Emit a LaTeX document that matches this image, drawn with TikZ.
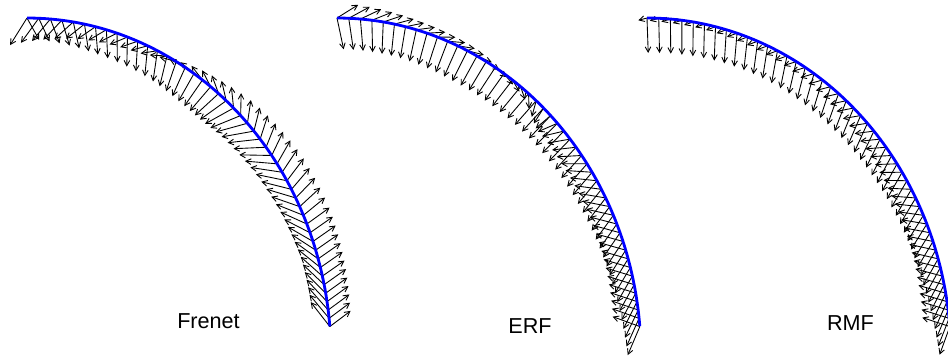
\documentclass[tikz,border=0pt]{standalone}
\usepackage{fontspec}
\setsansfont{Liberation Sans}
\usetikzlibrary{arrows.meta}

% frame vectors: angle (deg) and length (px) at u = 0, 1/8, ..., 1
\def\FrA{{238,215,192,120,78,55,35,35,37}}
\def\FrLA{{32,22,17,18,24,28,28,27,26}}
\def\FrB{{-61,-85,-97,-128,-168,-190,-205,-222,-232}}
\def\FrLB{{25,28,31,32,33,32,29,29,31}}
\def\ErA{{32,12,-12,-65,-165,-185,-195,-197,-200}}
\def\ErLA{{25,19,17,13,22,27,28,28,29}}
\def\ErB{{-78,-99,-116,-129,-135,-130,-125,-120,-113}}
\def\ErLB{{32,32,34,33,31,30,30,30,31}}
\def\RmA{{-165,-160,-160,-165,-172,-180,-190,-195,-198}}
\def\RmLA{{9,10,12,15,19,23,26,28,29}}
\def\RmB{{-88,-92,-100,-108,-115,-120,-122,-118,-110}}
\def\RmLB{{35,34,33,33,32,31,30,30,30}}

\begin{document}
\begin{tikzpicture}[
    x=0.02cm, y=-0.02cm,
    declare function={tt(\u)=85*(\u+0.23*\u*(1-\u));},
    curve/.style={draw=blue, line width=1.6pt},
    vec/.style={-{Straight Barb[length=3pt,width=3.2pt]}, line width=0.5pt},
    lbl/.style={font=\sffamily\fontsize{12.3}{14}\selectfont, anchor=base}
  ]
  \useasboundingbox (0,0) rectangle (948,360);
  \clip (0,0) rectangle (948,360);
  \foreach \ox/\A/\LA/\B/\LB in {0/\FrA/\FrLA/\FrB/\FrLB, 310/\ErA/\ErLA/\ErB/\ErLB, 620/\RmA/\RmLA/\RmB/\RmLB}{
    \foreach \k in {0,...,47}{
      \pgfmathsetmacro\tp{tt(\k/47)}
      \pgfmathtruncatemacro\ix{min(8*\k/47,7)}
      \pgfmathtruncatemacro\jx{\ix+1}
      \pgfmathsetmacro\fr{8*\k/47-\ix}
      \pgfmathsetmacro\angA{\A[\ix]*(1-\fr)+\A[\jx]*\fr}
      \pgfmathsetmacro\lenA{\LA[\ix]*(1-\fr)+\LA[\jx]*\fr}
      \pgfmathsetmacro\angB{\B[\ix]*(1-\fr)+\B[\jx]*\fr}
      \pgfmathsetmacro\lenB{\LB[\ix]*(1-\fr)+\LB[\jx]*\fr}
      \coordinate (p) at ({\ox+27+304*sin(\tp)},{356-338*cos(\tp)});
      \draw[vec] (p) -- ++({\lenA*cos(\angA)},{-\lenA*sin(\angA)});
      \draw[vec] (p) -- ++({\lenB*cos(\angB)},{-\lenB*sin(\angB)});
    }
    \draw[curve] plot[domain=0:1, samples=80, smooth, variable=\u]
      ({\ox+27+304*sin(tt(\u))},{356-338*cos(tt(\u))});
  }
  \node[lbl] (frenet) at (208.5,328) {Frenet};
  \node[lbl] (erf) at (530,333) {ERF};
  \node[lbl] (rmf) at (850.5,330) {RMF};
\end{tikzpicture}
\end{document}
